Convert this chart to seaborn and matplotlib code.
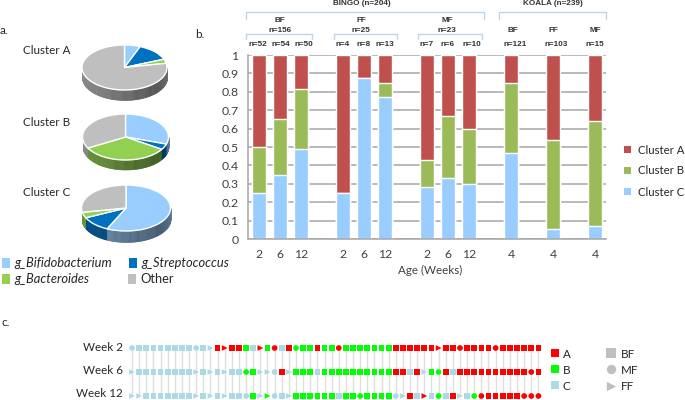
import numpy as np
import pandas as pd
import matplotlib
matplotlib.use("Agg")
import matplotlib.pyplot as plt
import seaborn as sns

sns.set_theme(style="white")
plt.rcParams['font.family'] = ['Lato', 'DejaVu Sans']

W, H = 685, 400

# Panel a: composition of each cluster
taxa = ["g_Bifidobacterium", "g_Streptococcus", "g_Bacteroides", "Other"]
pie_a = [6, 13, 3, 78]
pie_b = [30, 4, 33, 33]
pie_c = [57, 11, 4, 28]

# Panel b: stacked proportions
age_labels = ["2", "6", "12", "2", "6", "12", "2", "6", "12", "4", "4", "4"]
bar_pos = [0, 1, 2, 4, 5, 6, 8, 9, 10, 12, 14, 16]
cluster_c = [.25, .346, .49, .25, .875, .77, .285, .333, .30, .47, .055, .07]
cluster_b = [.25, .304, .326, 0, 0, .076, .145, .334, .30, .38, .485, .57]
cluster_a = [.50, .35, .184, .75, .125, .154, .57, .333, .40, .15, .46, .36]
n_labels = ["n=52", "n=54", "n=50", "n=4", "n=8", "n=13", "n=7", "n=6", "n=10", "n=121", "n=103", "n=15"]

# Panel c: per-infant cluster and feeding type
week2_cluster = "CCCCCCCCCCCCAAAABCABACABBBABBABBBBBBBAAAAAAAAAAAAAAAAAAAAA"
week2_feed =    "MSSSSSSSSMSFSFSSSSFSMSSMSSSSSMSSSSSSSSSSSSSFSSMSSSSMSSSSSS"
week6_cluster = "CCCCCCCCCCCCCCCCBBCCCACBBBCBBBBBBBBBBAACACBBACAAAAAAAAAAAA"
week6_feed =    "FSSSSSSSSFSFSFSSMSFFMSFSSSSSSSSSSSSSSSSSSFSMSSSSSSSSSSSSMS"
week12_cluster = "CCCCCCCCCCCCCCCCCBCBCCCBBBBBBCBBBBBBBCCACACBCACCBAAAAAAAAA"
week12_feed =    "FFSSSSSSSFSFSFSSMSFFMSFSSSSSSSSSMSSSSMFSSFSMSSFSMMSSSSSMMM"
week_names = ["Week 2", "Week 6", "Week 12"]

pie_colors = ["#99CCFF", "#0070C0", "#92D050", "#BFBFBF"]
stack_colors = {"Cluster A": "#C0504D", "Cluster B": "#9BBB59", "Cluster C": "#99CCFF"}
dot_colors = {"A": "#FF0000", "B": "#00FF00", "C": "#ADD8E6"}
dot_markers = {"S": "s", "M": "o", "F": ">"}

fig = plt.figure(figsize=(W / 100, H / 100), dpi=100, facecolor="white")


def px_axes(x, y, w, h, **kw):
    return fig.add_axes([x / W, 1 - (y + h) / H, w / W, h / H], **kw)


# ---------- Panel a ----------
def pie3d(values, cx, top, rx, ry, depth):
    ax = px_axes(cx - rx, top, 2 * rx, 2 * ry + depth)
    ax.pie(values, colors=pie_colors, startangle=90, counterclock=False, radius=1)
    d = depth / ry
    edges = np.cumsum(values) / np.sum(values)
    theta = np.linspace(180, 360, 121)
    for t0, t1 in zip(theta[:-1], theta[1:]):
        tm = (t0 + t1) / 2
        frac = ((90 - tm) / 360) % 1
        idx = min(np.searchsorted(edges, frac), 3)
        xm = np.cos(np.radians(tm))
        shade = 0.72 - 0.32 * (xm + 1) / 2 + 0.16 * max(0, xm - 0.75) / 0.25
        col = np.array(matplotlib.colors.to_rgb(pie_colors[idx])) * shade
        xs = np.cos(np.radians([t0, t1]))
        ys = np.sin(np.radians([t0, t1]))
        ax.fill_between(xs, ys - d, ys, color=col, lw=0.4, zorder=0.5)
    ax.set_aspect("auto")
    ax.set_xlim(-1, 1)
    ax.set_ylim(-1 - d, 1)
    ax.axis("off")


pie3d(pie_a, 124.5, 45, 42.5, 22.5, 10)
pie3d(pie_b, 125.5, 114, 43, 23, 9.5)
pie3d(pie_c, 126, 185, 44.5, 23, 11)

# ---------- Panel b ----------
axb = px_axes(248, 55, 358, 184)
b_df = pd.DataFrame({"pos": bar_pos, "C": cluster_c, "B": cluster_b, "A": cluster_a})
b_df["top_c"] = b_df["C"]
b_df["top_b"] = b_df["C"] + b_df["B"]
b_df["top_a"] = b_df["top_b"] + b_df["A"]
for col, name in [("top_a", "Cluster A"), ("top_b", "Cluster B"), ("top_c", "Cluster C")]:
    sns.barplot(data=b_df, x="pos", y=col, color=stack_colors[name], width=0.65,
                native_scale=True, saturation=1, ax=axb, errorbar=None)
axb.set_xlim(-0.52, 16.52)
axb.set_ylim(0, 1)
axb.set_xticks(bar_pos, age_labels)
axb.set_yticks(np.arange(0, 1.01, 0.1), ["0", "0.1", "0.2", "0.3", "0.4", "0.5", "0.6", "0.7", "0.8", "0.9", "1"])
axb.tick_params(axis="both", length=0, labelsize=8.8, labelcolor="#404040")
axb.tick_params(axis="x", pad=7.5)
axb.tick_params(axis="y", pad=7)
axb.set_xlabel("")
axb.set_ylabel("")
axb.set_axisbelow(True)
axb.grid(axis="y", color="#A6A6A6", lw=1.1)
axb.grid(axis="x", visible=False)
for s in ["top", "right"]:
    axb.spines[s].set_visible(False)
for s in ["left", "bottom"]:
    axb.spines[s].set_color("#A6A6A6")
    axb.spines[s].set_linewidth(1.1)

# ---------- Panel c ----------
axc = px_axes(125, 340, 420, 60)
rows = []
for r, (cl, fd) in enumerate([(week2_cluster, week2_feed), (week6_cluster, week6_feed), (week12_cluster, week12_feed)]):
    for i, (c, f) in enumerate(zip(cl, fd)):
        rows.append({"col": i, "row": r, "cluster": c, "feed": f})
c_df = pd.DataFrame(rows)
axc.vlines(range(len(week2_cluster)), 0, 2, colors="#DEDEDE", lw=1.0, zorder=0)
sns.scatterplot(data=c_df, x="col", y="row", hue="cluster", style="feed", palette=dot_colors,
                markers=dot_markers, s=17, linewidth=0, legend=False, ax=axc, clip_on=False, zorder=2)
axc.set_xlim((125 - 132) / 7.13, (545 - 132) / 7.13)
axc.set_ylim((400 - 348) / 24, (340 - 348) / 24)
axc.set_xticks([])
axc.set_yticks([])
axc.set_xlabel("")
axc.set_ylabel("")
axc.patch.set_alpha(0)
for s in axc.spines.values():
    s.set_visible(False)

# ---------- Overlay: annotations in pixel coordinates ----------
ov = px_axes(0, 0, W, H)
ov.set_xlim(0, W)
ov.set_ylim(H, 0)
ov.axis("off")
ov.patch.set_alpha(0)
ov.set_zorder(10)


def txt(x, y, s, size=8.4, ha="left", **kw):
    kw.setdefault("color", "#262626")
    ov.text(x, y, s, fontsize=size, ha=ha, va="center", **kw)


def bracket(x0, x1, y0, y1):
    ov.plot([x0, x0, x1, x1], [y1, y0, y0, y1], color="#BBD5EE", lw=1.0, solid_joinstyle="round")


txt(0, 30, "a.")
txt(195, 34, "b.")
txt(1, 322, "c.")
for y, name in zip([347.5, 371, 393.5], week_names):
    txt(123, y, name, ha="right")
for y, name in [(51, "Cluster A"), (122, "Cluster B"), (192, "Cluster C")]:
    txt(23, y, name)

# Pie legend
for x, y, col, name, style in [
    (14, 263, pie_colors[0], taxa[0], "italic"),
    (14, 279, pie_colors[2], taxa[2], "italic"),
    (141, 263, pie_colors[1], taxa[1], "italic"),
    (140, 279, pie_colors[3], taxa[3], "normal"),
]:
    ov.add_patch(plt.Rectangle((x - 12, y - 5), 8.5, 10, color=col, lw=0))
    txt(x, y, name, size=9.3, style=style)

# Bar group annotations
A = dict(family=["Liberation Sans"], fontweight="bold", color="#333333")
bracket(246, 484, 12, 19)
bracket(499, 606, 12, 19)
bracket(246, 312, 34, 39)
bracket(334, 397, 34, 39)
bracket(418, 482, 34, 39)
txt(362, 3.5, "BINGO (n=204)", size=5.9, ha="center", **A)
txt(553, 3.5, "KOALA (n=239)", size=5.9, ha="center", **A)
for x, a, b in [(280, "BF", "n=156"), (361, "FF", "n=25"), (447, "MF", "n=23")]:
    txt(x, 20, a, size=5.9, ha="center", **A)
    txt(x, 30, b, size=5.9, ha="center", **A)
for x, a in [(513, "BF"), (553, "FF"), (595, "MF")]:
    txt(x, 30, a, size=5.9, ha="center", **A)
n_x = [258, 281, 304, 343, 364, 385, 427, 448, 472, 515, 556, 595]
for x, s in zip(n_x, n_labels):
    txt(x, 44.5, s, size=5.9, ha="center", **A)
txt(430, 270, "Age (Weeks)", ha="center", color="#404040")

# Bar legend
for y, name in [(149, "Cluster A"), (170, "Cluster B"), (191, "Cluster C")]:
    ov.add_patch(plt.Rectangle((624, y - 3.5), 7, 7, color=stack_colors[name], lw=0))
    txt(638, y + 1, name, size=8.2, color="#262626")

# Panel c legend
for y, k in [(353, "A"), (369, "B"), (385, "C")]:
    ov.scatter([555], [y], marker="s", s=30, color=dot_colors[k], lw=0)
    txt(563, y + 1, k)
for y, k, name in [(353, "S", "BF"), (369, "M", "MF"), (386, "F", "FF")]:
    ov.scatter([611], [y], marker=dot_markers[k], s=45, color="#BFBFBF", lw=0)
    txt(621, y + 1, name)

fig.savefig("out.png", dpi=100)
